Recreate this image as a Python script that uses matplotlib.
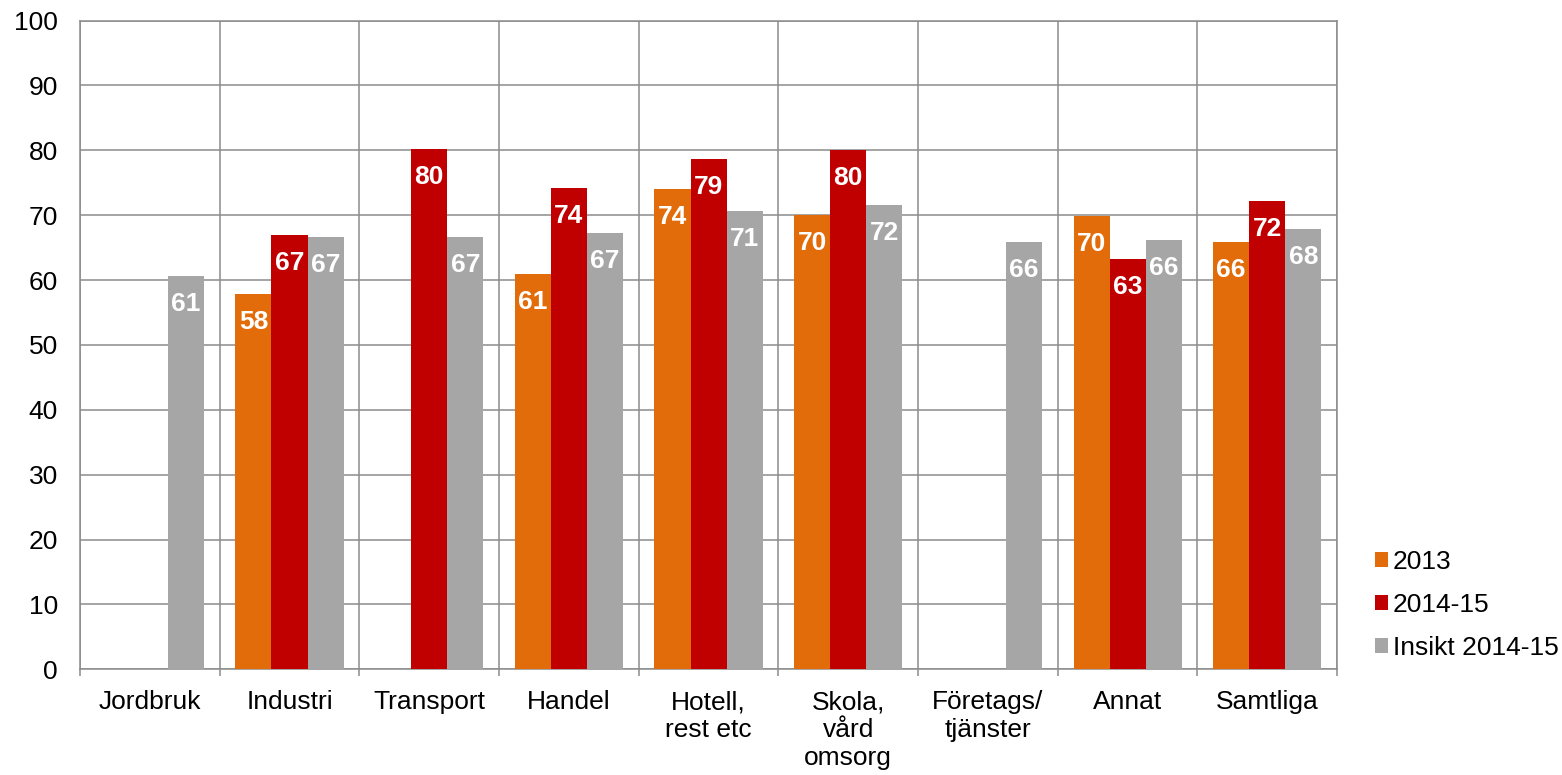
import numpy as np
import matplotlib
matplotlib.use("Agg")
import matplotlib.pyplot as plt

plt.rcParams['font.family'] = ['Liberation Sans', 'DejaVu Sans']

# data (NaN = no bar)
categories = ['Jordbruk', 'Industri', 'Transport', 'Handel', 'Hotell,\nrest etc',
              'Skola,\nvård\nomsorg', 'Företags/\ntjänster', 'Annat', 'Samtliga']
v2013 = [np.nan, 57.9, np.nan, 60.9, 74.0, 70.0, np.nan, 69.9, 65.9]
v2014 = [np.nan, 67.0, 80.2, 74.2, 78.7, 80.1, np.nan, 63.2, 72.2]
insikt = [60.6, 66.6, 66.6, 67.2, 70.6, 71.6, 65.9, 66.1, 67.9]
series_names = ['2013', '2014-15', 'Insikt 2014-15']
colors = ['#E36C0A', '#C00000', '#A6A6A6']

fig = plt.figure(figsize=(15.62, 7.75), dpi=100)
ax = fig.add_axes([0.0512, 0.1364, 0.8048, 0.8371])

x = np.arange(len(categories))
w = 0.258
grid_col = '#8c8c8c'
fs = 19

for i, (vals, name, c) in enumerate(zip([v2013, v2014, insikt], series_names, colors)):
    pos = x + (i - 1) * w
    ax.bar(pos, vals, width=w, color=c, label=name, zorder=3)
    for p, v in zip(pos, vals):
        if np.isnan(v):
            continue
        ax.annotate(f"{v:.0f}", (p, v), xytext=(0, -28), textcoords='offset pixels',
                    ha='center', va='center', color='white', fontsize=fs,
                    fontweight='bold', zorder=4)

ax.set_ylim(0, 100)
ax.set_xlim(-0.5, len(categories) - 0.5)
ax.set_yticks(np.arange(0, 101, 10))
ax.set_xticks(x)
ax.set_xticklabels(categories, fontsize=fs, linespacing=1.2)
ax.set_xticks(np.arange(-0.5, len(categories), 1), minor=True)
ax.tick_params(axis='y', length=0, pad=16, labelsize=fs)
ax.tick_params(axis='x', which='major', length=0, pad=15)
ax.tick_params(axis='x', which='minor', length=5, color=grid_col, width=1.1)
ax.grid(axis='y', color=grid_col, linewidth=1.1, zorder=0)
ax.grid(axis='x', which='minor', color=grid_col, linewidth=1.1, zorder=0)
ax.grid(axis='x', which='major', visible=False)
for s in ax.spines.values():
    s.set_color(grid_col)
    s.set_linewidth(1.1)

ax.legend(loc='center left', bbox_to_anchor=(0.88, 0.219), bbox_transform=fig.transFigure,
          frameon=False, fontsize=fs, handlelength=0.5, handleheight=0.5,
          handletextpad=0.2, labelspacing=0.72, borderaxespad=0, borderpad=0)

fig.savefig('out.png', dpi=100)
